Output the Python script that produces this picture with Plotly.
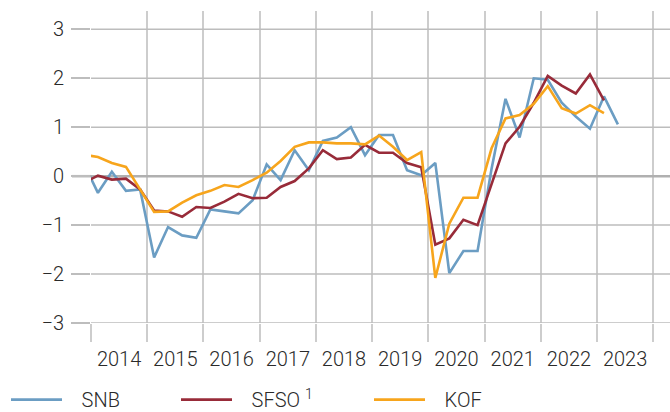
import pandas as pd
import plotly.graph_objects as go

# Quarterly data, 2013 Q4 .. 2023 Q2 (values plotted at mid-quarter)
quarters = [str(p) for p in pd.period_range("2013Q4", "2023Q2", freq="Q")]

snb = [0.25,
       -0.34, 0.09, -0.30, -0.27,
       -1.66, -1.04, -1.21, -1.26,
       -0.68, -0.72, -0.76, -0.49,
       0.24, -0.08, 0.53, 0.12,
       0.72, 0.79, 1.00, 0.43,
       0.84, 0.84, 0.12, 0.02,
       0.27, -1.98, -1.53, -1.53,
       0.15, 1.58, 0.79, 2.00,
       1.97, 1.50, 1.22, 0.97,
       1.63, 1.06]

sfso = [-0.13,
        0.01, -0.07, -0.05, -0.27,
        -0.70, -0.72, -0.83, -0.63,
        -0.65, -0.52, -0.36, -0.45,
        -0.44, -0.22, -0.10, 0.16,
        0.53, 0.35, 0.38, 0.64,
        0.48, 0.48, 0.27, 0.18,
        -1.40, -1.27, -0.89, -1.00,
        -0.15, 0.67, 1.01, 1.50,
        2.05, 1.85, 1.69, 2.08,
        1.55]

kof = [0.44,
       0.39, 0.27, 0.19, -0.27,
       -0.73, -0.72, -0.54, -0.39,
       -0.30, -0.18, -0.22, -0.08,
       0.07, 0.31, 0.60, 0.69,
       0.69, 0.67, 0.67, 0.65,
       0.83, 0.60, 0.33, 0.49,
       -2.08, -0.97, -0.44, -0.44,
       0.57, 1.18, 1.25, 1.48,
       1.84, 1.39, 1.28, 1.45,
       1.29]

series_names = ["SNB", "SFSO <sup>1</sup>", "KOF"]
y_ticks = [-3, -2, -1, 0, 1, 2, 3]
x_range = ["2014-01-01", "2024-04-19"]
y_range = [-3, 3.375]


def mid_quarter(q):
    p = pd.Period(q, freq="Q")
    return p.start_time + (p.end_time - p.start_time) / 2


x_all = [mid_quarter(q) for q in quarters]

colors = ["#6b9dc3", "#982b39", "#f7a51c"]
font_family = "Roboto, 'Liberation Sans', sans-serif"
text_color = "#2a2a2a"
tfont = dict(family=font_family, size=20, color=text_color, weight=300)
pad = "\u00a0\u00a0\u00a0"

W, H = 670, 412
ML, MR, MT, MB = 91, 0, 11, 89
plot_w = W - ML - MR

grid_v = "#cdcdcd"
grid_h = "#bdbdbd"
zero_c = "#b0b0b0"

fig = go.Figure()

# horizontal grid lines drawn as a line trace spanning the x range
gx, gy = [], []
for v in y_ticks:
    if v != 0:
        gx += [x_range[0], x_range[1], None]
        gy += [v, v, None]
fig.add_trace(go.Scatter(x=gx, y=gy, mode="lines", showlegend=False,
                         hoverinfo="skip", line=dict(color=grid_h, width=1.5)))
fig.add_trace(go.Scatter(x=x_range, y=[0, 0], mode="lines", showlegend=False,
                         hoverinfo="skip", line=dict(color=zero_c, width=2.5)))

data = [snb, sfso, kof]
legends = ["legend", "legend2", "legend3"]
for name, vals, col, lg in zip(series_names, data, colors, legends):
    fig.add_trace(go.Scatter(
        x=x_all[:len(vals)], y=vals, mode="lines", name=pad + name,
        line=dict(color=col, width=2.6), legend=lg,
    ))

# zero line extension to the left of the plot area
fig.add_shape(type="line", xref="paper", yref="y",
              x0=-19 / plot_w, x1=0, y0=0, y1=0,
              line=dict(color=zero_c, width=2.5), layer="between")

leg_common = dict(orientation="h", xref="container", yref="container",
                  y=0.03, yanchor="middle", xanchor="left",
                  bgcolor="rgba(0,0,0,0)", itemwidth=51, font=tfont)

fig.update_layout(
    width=W, height=H,
    margin=dict(l=ML, r=MR, t=MT, b=MB, autoexpand=False),
    paper_bgcolor="white", plot_bgcolor="white",
    font=tfont,
    showlegend=True,
    legend=dict(x=6 / W, **leg_common),
    legend2=dict(x=176 / W, **leg_common),
    legend3=dict(x=369 / W, **leg_common),
    xaxis=dict(
        type="date",
        range=x_range,
        tick0="2014-01-01", dtick="M12", tickformat="%Y",
        ticklabelmode="period",
        showgrid=True, gridcolor=grid_v, gridwidth=2,
        ticks="outside", ticklen=18, tickwidth=2, tickcolor=grid_v,
        showline=False, zeroline=False,
        ticklabelstandoff=0, automargin=False,
        tickfont=tfont,
    ),
    yaxis=dict(
        range=y_range, tickvals=y_ticks,
        showgrid=False,
        ticks="outside", ticklen=19, tickwidth=1.5, tickcolor=grid_h,
        showline=False, zeroline=False,
        ticklabelstandoff=3, automargin=False,
        tickfont=tfont,
    ),
)

fig.write_html("out.html", config={"displayModeBar": False},
               post_script="document.body.style.margin='0px';")
